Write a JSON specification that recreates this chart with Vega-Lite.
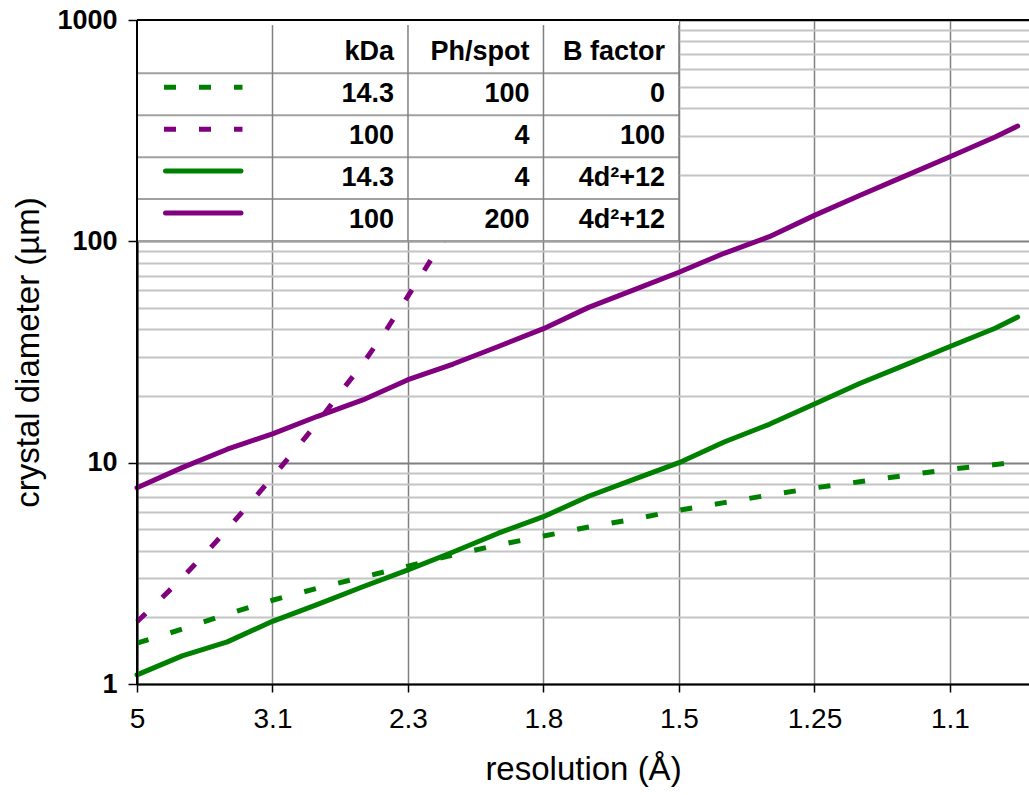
{
  "$schema": "https://vega.github.io/schema/vega-lite/v6.json",
  "autosize": {"type": "none"},
  "padding": {"left": 137, "top": 20, "right": 0, "bottom": 111},
  "width": 892,
  "height": 664,
  "background": "white",
  "config": {"view": {"stroke": null}, "font": "Liberation Sans"},
  "datasets": {
    "curves": [
      {"series": "14.3 kDa, 100 ph/spot, B=0", "inv_res": 0.20, "diameter": 1.53},
      {"series": "14.3 kDa, 100 ph/spot, B=0", "inv_res": 0.24, "diameter": 1.77},
      {"series": "14.3 kDa, 100 ph/spot, B=0", "inv_res": 0.28, "diameter": 2.07},
      {"series": "14.3 kDa, 100 ph/spot, B=0", "inv_res": 0.32, "diameter": 2.39},
      {"series": "14.3 kDa, 100 ph/spot, B=0", "inv_res": 0.36, "diameter": 2.71},
      {"series": "14.3 kDa, 100 ph/spot, B=0", "inv_res": 0.40, "diameter": 3.04},
      {"series": "14.3 kDa, 100 ph/spot, B=0", "inv_res": 0.44, "diameter": 3.41},
      {"series": "14.3 kDa, 100 ph/spot, B=0", "inv_res": 0.48, "diameter": 3.83},
      {"series": "14.3 kDa, 100 ph/spot, B=0", "inv_res": 0.52, "diameter": 4.25},
      {"series": "14.3 kDa, 100 ph/spot, B=0", "inv_res": 0.56, "diameter": 4.66},
      {"series": "14.3 kDa, 100 ph/spot, B=0", "inv_res": 0.60, "diameter": 5.12},
      {"series": "14.3 kDa, 100 ph/spot, B=0", "inv_res": 0.64, "diameter": 5.56},
      {"series": "14.3 kDa, 100 ph/spot, B=0", "inv_res": 0.68, "diameter": 6.1},
      {"series": "14.3 kDa, 100 ph/spot, B=0", "inv_res": 0.72, "diameter": 6.6},
      {"series": "14.3 kDa, 100 ph/spot, B=0", "inv_res": 0.76, "diameter": 7.14},
      {"series": "14.3 kDa, 100 ph/spot, B=0", "inv_res": 0.80, "diameter": 7.69},
      {"series": "14.3 kDa, 100 ph/spot, B=0", "inv_res": 0.84, "diameter": 8.2},
      {"series": "14.3 kDa, 100 ph/spot, B=0", "inv_res": 0.88, "diameter": 8.75},
      {"series": "14.3 kDa, 100 ph/spot, B=0", "inv_res": 0.92, "diameter": 9.33},
      {"series": "14.3 kDa, 100 ph/spot, B=0", "inv_res": 0.96, "diameter": 9.8},
      {"series": "14.3 kDa, 100 ph/spot, B=0", "inv_res": 0.98, "diameter": 10.1},

      {"series": "100 kDa, 4 ph/spot, B=100", "inv_res": 0.20, "diameter": 1.91},
      {"series": "100 kDa, 4 ph/spot, B=100", "inv_res": 0.22, "diameter": 2.39},
      {"series": "100 kDa, 4 ph/spot, B=100", "inv_res": 0.24, "diameter": 3.02},
      {"series": "100 kDa, 4 ph/spot, B=100", "inv_res": 0.26, "diameter": 3.86},
      {"series": "100 kDa, 4 ph/spot, B=100", "inv_res": 0.28, "diameter": 5.0},
      {"series": "100 kDa, 4 ph/spot, B=100", "inv_res": 0.30, "diameter": 6.56},
      {"series": "100 kDa, 4 ph/spot, B=100", "inv_res": 0.32, "diameter": 8.6},
      {"series": "100 kDa, 4 ph/spot, B=100", "inv_res": 0.34, "diameter": 11.4},
      {"series": "100 kDa, 4 ph/spot, B=100", "inv_res": 0.36, "diameter": 15.2},
      {"series": "100 kDa, 4 ph/spot, B=100", "inv_res": 0.38, "diameter": 20.7},
      {"series": "100 kDa, 4 ph/spot, B=100", "inv_res": 0.40, "diameter": 28},
      {"series": "100 kDa, 4 ph/spot, B=100", "inv_res": 0.42, "diameter": 39.2},
      {"series": "100 kDa, 4 ph/spot, B=100", "inv_res": 0.44, "diameter": 56.6},
      {"series": "100 kDa, 4 ph/spot, B=100", "inv_res": 0.46, "diameter": 82},
      {"series": "100 kDa, 4 ph/spot, B=100", "inv_res": 0.48, "diameter": 117},
      {"series": "100 kDa, 4 ph/spot, B=100", "inv_res": 0.52, "diameter": 257},
      {"series": "100 kDa, 4 ph/spot, B=100", "inv_res": 0.56, "diameter": 600},
      {"series": "100 kDa, 4 ph/spot, B=100", "inv_res": 0.585, "diameter": 1000},

      {"series": "14.3 kDa, 4 ph/spot, B=4d²+12", "inv_res": 0.20, "diameter": 1.10},
      {"series": "14.3 kDa, 4 ph/spot, B=4d²+12", "inv_res": 0.24, "diameter": 1.34},
      {"series": "14.3 kDa, 4 ph/spot, B=4d²+12", "inv_res": 0.28, "diameter": 1.55},
      {"series": "14.3 kDa, 4 ph/spot, B=4d²+12", "inv_res": 0.32, "diameter": 1.92},
      {"series": "14.3 kDa, 4 ph/spot, B=4d²+12", "inv_res": 0.36, "diameter": 2.29},
      {"series": "14.3 kDa, 4 ph/spot, B=4d²+12", "inv_res": 0.40, "diameter": 2.75},
      {"series": "14.3 kDa, 4 ph/spot, B=4d²+12", "inv_res": 0.44, "diameter": 3.28},
      {"series": "14.3 kDa, 4 ph/spot, B=4d²+12", "inv_res": 0.48, "diameter": 3.95},
      {"series": "14.3 kDa, 4 ph/spot, B=4d²+12", "inv_res": 0.52, "diameter": 4.8},
      {"series": "14.3 kDa, 4 ph/spot, B=4d²+12", "inv_res": 0.56, "diameter": 5.7},
      {"series": "14.3 kDa, 4 ph/spot, B=4d²+12", "inv_res": 0.60, "diameter": 7.05},
      {"series": "14.3 kDa, 4 ph/spot, B=4d²+12", "inv_res": 0.64, "diameter": 8.4},
      {"series": "14.3 kDa, 4 ph/spot, B=4d²+12", "inv_res": 0.68, "diameter": 10.0},
      {"series": "14.3 kDa, 4 ph/spot, B=4d²+12", "inv_res": 0.72, "diameter": 12.4},
      {"series": "14.3 kDa, 4 ph/spot, B=4d²+12", "inv_res": 0.76, "diameter": 14.9},
      {"series": "14.3 kDa, 4 ph/spot, B=4d²+12", "inv_res": 0.80, "diameter": 18.4},
      {"series": "14.3 kDa, 4 ph/spot, B=4d²+12", "inv_res": 0.84, "diameter": 22.8},
      {"series": "14.3 kDa, 4 ph/spot, B=4d²+12", "inv_res": 0.88, "diameter": 27.6},
      {"series": "14.3 kDa, 4 ph/spot, B=4d²+12", "inv_res": 0.92, "diameter": 33.5},
      {"series": "14.3 kDa, 4 ph/spot, B=4d²+12", "inv_res": 0.96, "diameter": 40.5},
      {"series": "14.3 kDa, 4 ph/spot, B=4d²+12", "inv_res": 0.98, "diameter": 45.5},

      {"series": "100 kDa, 200 ph/spot, B=4d²+12", "inv_res": 0.20, "diameter": 7.7},
      {"series": "100 kDa, 200 ph/spot, B=4d²+12", "inv_res": 0.24, "diameter": 9.5},
      {"series": "100 kDa, 200 ph/spot, B=4d²+12", "inv_res": 0.28, "diameter": 11.5},
      {"series": "100 kDa, 200 ph/spot, B=4d²+12", "inv_res": 0.32, "diameter": 13.5},
      {"series": "100 kDa, 200 ph/spot, B=4d²+12", "inv_res": 0.36, "diameter": 16.2},
      {"series": "100 kDa, 200 ph/spot, B=4d²+12", "inv_res": 0.40, "diameter": 19.2},
      {"series": "100 kDa, 200 ph/spot, B=4d²+12", "inv_res": 0.44, "diameter": 23.7},
      {"series": "100 kDa, 200 ph/spot, B=4d²+12", "inv_res": 0.48, "diameter": 27.9},
      {"series": "100 kDa, 200 ph/spot, B=4d²+12", "inv_res": 0.52, "diameter": 33.5},
      {"series": "100 kDa, 200 ph/spot, B=4d²+12", "inv_res": 0.56, "diameter": 40.3},
      {"series": "100 kDa, 200 ph/spot, B=4d²+12", "inv_res": 0.60, "diameter": 50.3},
      {"series": "100 kDa, 200 ph/spot, B=4d²+12", "inv_res": 0.64, "diameter": 60.3},
      {"series": "100 kDa, 200 ph/spot, B=4d²+12", "inv_res": 0.68, "diameter": 72.5},
      {"series": "100 kDa, 200 ph/spot, B=4d²+12", "inv_res": 0.72, "diameter": 88.3},
      {"series": "100 kDa, 200 ph/spot, B=4d²+12", "inv_res": 0.76, "diameter": 105},
      {"series": "100 kDa, 200 ph/spot, B=4d²+12", "inv_res": 0.80, "diameter": 131},
      {"series": "100 kDa, 200 ph/spot, B=4d²+12", "inv_res": 0.84, "diameter": 161},
      {"series": "100 kDa, 200 ph/spot, B=4d²+12", "inv_res": 0.88, "diameter": 197},
      {"series": "100 kDa, 200 ph/spot, B=4d²+12", "inv_res": 0.92, "diameter": 241},
      {"series": "100 kDa, 200 ph/spot, B=4d²+12", "inv_res": 0.96, "diameter": 296},
      {"series": "100 kDa, 200 ph/spot, B=4d²+12", "inv_res": 0.98, "diameter": 332}
    ],
    "legendTable": [
      {"row": 0, "series": "header", "kDa": "kDa", "ph": "Ph/spot", "B": "B factor"},
      {"row": 1, "series": "14.3 kDa, 100 ph/spot, B=0", "kDa": "14.3", "ph": "100", "B": "0"},
      {"row": 2, "series": "100 kDa, 4 ph/spot, B=100", "kDa": "100", "ph": "4", "B": "100"},
      {"row": 3, "series": "14.3 kDa, 4 ph/spot, B=4d²+12", "kDa": "14.3", "ph": "4", "B": "4d²+12"},
      {"row": 4, "series": "100 kDa, 200 ph/spot, B=4d²+12", "kDa": "100", "ph": "200", "B": "4d²+12"}
    ]
  },
  "layer": [
    {
      "data": {"name": "curves"},
      "encoding": {
        "x": {
          "field": "inv_res",
          "type": "quantitative",
          "scale": {"domain": [0.2, 0.99], "nice": false, "zero": false},
          "axis": {
            "values": [0.2, 0.32, 0.44, 0.56, 0.68, 0.8, 0.92],
            "labelExpr": "datum.value < 0.25 ? '5' : datum.value < 0.37 ? '3.1' : datum.value < 0.5 ? '2.3' : datum.value < 0.6 ? '1.8' : datum.value < 0.7 ? '1.5' : datum.value < 0.85 ? '1.25' : '1.1'",
            "title": "resolution (Å)",
            "grid": true,
            "gridColor": "#808080",
            "gridWidth": 1.5,
            "domainColor": "black",
            "domainWidth": 2,
            "tickColor": "black",
            "tickWidth": 1.5,
            "tickSize": 8,
            "labelFont": "Liberation Sans",
            "labelFontSize": 28,
            "labelColor": "black",
            "labelPadding": 13,
            "labelFlush": false,
            "labelOverlap": false,
            "titleFont": "Liberation Sans",
            "titleFontSize": 33,
            "titleFontWeight": "normal",
            "titleColor": "black",
            "titlePadding": 20
          }
        },
        "y": {
          "field": "diameter",
          "type": "quantitative",
          "scale": {"type": "log", "domain": [1, 1000], "nice": false},
          "axis": {
            "values": [1, 2, 3, 4, 5, 6, 7, 8, 9, 10, 20, 30, 40, 50, 60, 70, 80, 90, 100, 200, 300, 400, 500, 600, 700, 800, 900, 1000],
            "labelExpr": "indexof([1, 10, 100, 1000], datum.value) >= 0 ? '' + datum.value : ''",
            "title": "crystal diameter (µm)",
            "grid": true,
            "gridColor": {"condition": {"test": "indexof([1, 10, 100, 1000], datum.value) >= 0", "value": "#808080"}, "value": "#c4c4c4"},
            "gridWidth": 2,
            "domainColor": "black",
            "domainWidth": 2,
            "tickColor": "black",
            "tickWidth": 1.5,
            "tickSize": 9,
            "tickOpacity": {"condition": {"test": "indexof([1, 10, 100, 1000], datum.value) >= 0", "value": 1}, "value": 0},
            "labelFont": "Liberation Sans",
            "labelFontSize": 27,
            "labelFontWeight": "bold",
            "labelColor": "black",
            "labelPadding": 11,
            "labelFlush": false,
            "labelOverlap": false,
            "titleFont": "Liberation Sans",
            "titleFontSize": 33,
            "titleFontWeight": "normal",
            "titleColor": "black",
            "titlePadding": 11
          }
        },
        "color": {
          "field": "series",
          "type": "nominal",
          "scale": {
            "domain": ["14.3 kDa, 100 ph/spot, B=0", "100 kDa, 4 ph/spot, B=100", "14.3 kDa, 4 ph/spot, B=4d²+12", "100 kDa, 200 ph/spot, B=4d²+12", "header"],
            "range": ["#008000", "#800080", "#008000", "#800080", "black"]
          },
          "legend": null
        }
      },
      "layer": [
        {
          "transform": [{"filter": {"field": "series", "oneOf": ["14.3 kDa, 100 ph/spot, B=0", "100 kDa, 4 ph/spot, B=100"]}}],
          "mark": {"type": "line", "strokeWidth": 5, "strokeDash": [12, 23], "strokeCap": "butt"}
        },
        {
          "transform": [{"filter": {"field": "series", "oneOf": ["14.3 kDa, 4 ph/spot, B=4d²+12", "100 kDa, 200 ph/spot, B=4d²+12"]}}],
          "mark": {"type": "line", "strokeWidth": 5, "strokeCap": "round", "strokeJoin": "round"}
        }
      ]
    },
    {
      "data": {"name": "legendTable"},
      "layer": [
        {
          "data": {"values": [{"part": "background"}]},
          "mark": {"type": "rect", "fill": "white"},
          "encoding": {
            "x": {"datum": 0.2, "type": "quantitative"},
            "x2": {"datum": 0.68},
            "y": {"datum": -0.772, "type": "quantitative", "scale": {"domain": [-0.772, 15.075], "reverse": true, "zero": false, "nice": false}, "axis": null},
            "y2": {"datum": 4.5}
          }
        },
        {
          "mark": {"type": "rule", "color": "#a0a0a0", "strokeWidth": 2, "yOffset": 21},
          "encoding": {
            "x": {"datum": 0.2, "type": "quantitative"},
            "x2": {"datum": 0.68},
            "y": {"field": "row", "type": "quantitative", "scale": {"domain": [-0.772, 15.075], "reverse": true, "zero": false, "nice": false}, "axis": null}
          }
        },
        {
          "data": {"values": [{"edge": "kDa"}]},
          "mark": {"type": "rule", "color": "#808080", "strokeWidth": 1.5},
          "encoding": {
            "x": {"datum": 0.32, "type": "quantitative"},
            "y": {"datum": -0.65, "type": "quantitative", "scale": {"domain": [-0.772, 15.075], "reverse": true, "zero": false, "nice": false}, "axis": null},
            "y2": {"datum": 4.5}
          }
        },
        {
          "data": {"values": [{"edge": "Ph/spot"}]},
          "mark": {"type": "rule", "color": "#808080", "strokeWidth": 1.5},
          "encoding": {
            "x": {"datum": 0.44, "type": "quantitative"},
            "y": {"datum": -0.65, "type": "quantitative", "scale": {"domain": [-0.772, 15.075], "reverse": true, "zero": false, "nice": false}, "axis": null},
            "y2": {"datum": 4.5}
          }
        },
        {
          "data": {"values": [{"edge": "B factor"}]},
          "mark": {"type": "rule", "color": "#808080", "strokeWidth": 1.5},
          "encoding": {
            "x": {"datum": 0.56, "type": "quantitative"},
            "y": {"datum": -0.65, "type": "quantitative", "scale": {"domain": [-0.772, 15.075], "reverse": true, "zero": false, "nice": false}, "axis": null},
            "y2": {"datum": 4.5}
          }
        },
        {
          "data": {"values": [{"edge": "right"}]},
          "mark": {"type": "rule", "color": "#808080", "strokeWidth": 1.5},
          "encoding": {
            "x": {"datum": 0.68, "type": "quantitative"},
            "y": {"datum": -0.65, "type": "quantitative", "scale": {"domain": [-0.772, 15.075], "reverse": true, "zero": false, "nice": false}, "axis": null},
            "y2": {"datum": 4.5}
          }
        },
        {
          "transform": [{"filter": {"field": "series", "oneOf": ["14.3 kDa, 100 ph/spot, B=0", "100 kDa, 4 ph/spot, B=100"]}}],
          "mark": {"type": "rule", "strokeWidth": 5, "strokeDash": [12, 23], "strokeCap": "butt", "yOffset": -7, "xOffset": 27, "x2Offset": -30},
          "encoding": {
            "x": {"datum": 0.2, "type": "quantitative"},
            "x2": {"datum": 0.32},
            "y": {"field": "row", "type": "quantitative", "scale": {"domain": [-0.772, 15.075], "reverse": true, "zero": false, "nice": false}, "axis": null},
            "color": {"field": "series", "type": "nominal", "legend": null}
          }
        },
        {
          "transform": [{"filter": {"field": "series", "oneOf": ["14.3 kDa, 4 ph/spot, B=4d²+12", "100 kDa, 200 ph/spot, B=4d²+12"]}}],
          "mark": {"type": "rule", "strokeWidth": 5, "strokeCap": "round", "yOffset": -7, "xOffset": 28.5, "x2Offset": -31.5},
          "encoding": {
            "x": {"datum": 0.2, "type": "quantitative"},
            "x2": {"datum": 0.32},
            "y": {"field": "row", "type": "quantitative", "scale": {"domain": [-0.772, 15.075], "reverse": true, "zero": false, "nice": false}, "axis": null},
            "color": {"field": "series", "type": "nominal", "legend": null}
          }
        },
        {
          "mark": {"type": "text", "align": "right", "baseline": "middle", "dx": -14, "font": "Liberation Sans", "fontSize": 27, "fontWeight": "bold", "color": "black"},
          "encoding": {
            "x": {"datum": 0.44, "type": "quantitative"},
            "y": {"field": "row", "type": "quantitative", "scale": {"domain": [-0.772, 15.075], "reverse": true, "zero": false, "nice": false}, "axis": null},
            "text": {"field": "kDa"}
          }
        },
        {
          "mark": {"type": "text", "align": "right", "baseline": "middle", "dx": -14, "font": "Liberation Sans", "fontSize": 27, "fontWeight": "bold", "color": "black"},
          "encoding": {
            "x": {"datum": 0.56, "type": "quantitative"},
            "y": {"field": "row", "type": "quantitative", "scale": {"domain": [-0.772, 15.075], "reverse": true, "zero": false, "nice": false}, "axis": null},
            "text": {"field": "ph"}
          }
        },
        {
          "mark": {"type": "text", "align": "right", "baseline": "middle", "dx": -14, "font": "Liberation Sans", "fontSize": 27, "fontWeight": "bold", "color": "black"},
          "encoding": {
            "x": {"datum": 0.68, "type": "quantitative"},
            "y": {"field": "row", "type": "quantitative", "scale": {"domain": [-0.772, 15.075], "reverse": true, "zero": false, "nice": false}, "axis": null},
            "text": {"field": "B"}
          }
        },
        {
          "data": {"values": [{"edge": "top"}]},
          "mark": {"type": "rule", "color": "black", "strokeWidth": 2},
          "encoding": {
            "y": {"datum": -0.772, "type": "quantitative", "scale": {"domain": [-0.772, 15.075], "reverse": true, "zero": false, "nice": false}, "axis": null}
          }
        },
        {
          "data": {"values": [{"edge": "left"}]},
          "mark": {"type": "rule", "color": "black", "strokeWidth": 2},
          "encoding": {
            "x": {"datum": 0.2, "type": "quantitative"}
          }
        }
      ]
    }
  ],
  "resolve": {"scale": {"y": "independent"}}
}
